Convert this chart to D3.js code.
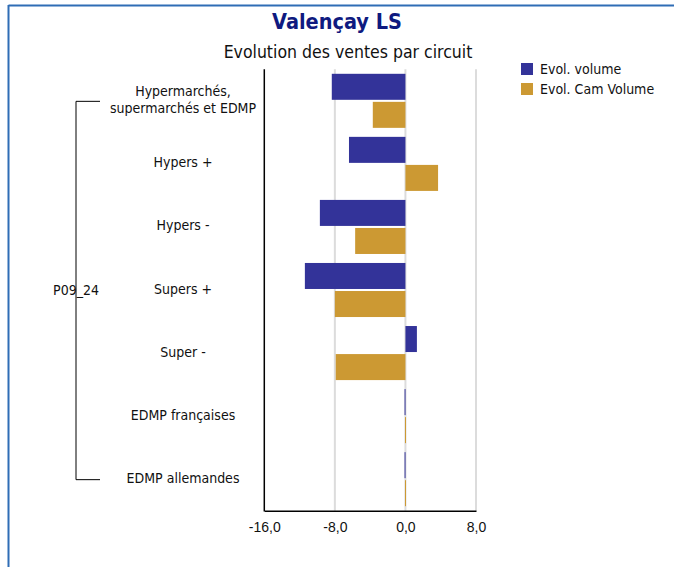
<!DOCTYPE html>
<html><head><meta charset="utf-8">
<script src="https://cdn.jsdelivr.net/npm/d3@7/dist/d3.min.js"></script>
<style>
html,body{margin:0;padding:0;background:#fff;}
svg{display:block;font-family:"DejaVu Sans Condensed","DejaVu Sans",sans-serif;}
</style></head>
<body><svg id="c" width="674" height="567"></svg>
<script>
const categories = ["Hypermarchés,|supermarchés et EDMP", "Hypers +", "Hypers -", "Supers +", "Super -", "EDMP françaises", "EDMP allemandes"];
const evolVolume = [-8.35, -6.4, -9.7, -11.4, 1.3, -0.1, -0.1];
const evolCamVolume = [-3.7, 3.7, -5.7, -8.0, -7.9, -0.05, -0.05];
const seriesNames = ["Evol. volume", "Evol. Cam Volume"];
const seriesColors = ["#333399", "#CC9933"];
const xTicks = [-16, -8, 0, 8];
const groupLabel = "P09_24";
const titleText = "Valençay LS";
const subtitleText = "Evolution des ventes par circuit";

const FS = 14;
const svg = d3.select("#c");
const L = 264.3, R = 476, T = 69.3, B = 510.7;

// border
svg.append("line").attr("x1",8.5).attr("x2",674).attr("y1",5.5).attr("y2",5.5).attr("stroke","#2f6db5").attr("stroke-width",2);
svg.append("line").attr("x1",8.5).attr("x2",8.5).attr("y1",5).attr("y2",567).attr("stroke","#2f6db5").attr("stroke-width",2);

svg.append("text").attr("x",337).attr("y",29).attr("text-anchor","middle")
  .attr("font-size",21.5).attr("font-weight","bold").attr("fill","#0f1a80").text(titleText);
svg.append("text").attr("x",348).attr("y",58).attr("text-anchor","middle")
  .attr("font-size",17.5).attr("fill","#111").text(subtitleText);

const x = d3.scaleLinear().domain([-16, 8]).range([L, R]);
const y = d3.scaleBand().domain(categories).range([T, B]);
const bw = y.bandwidth();
const sub = d3.scaleBand().domain(seriesNames).range([4.5, bw - 4.5]).paddingInner(0.0727);

// gridlines
svg.append("g").selectAll("line").data(xTicks.filter(t => t > -16)).join("line")
  .attr("x1", d => x(d)).attr("x2", d => x(d)).attr("y1", T).attr("y2", B)
  .attr("stroke", "#dcdcdc").attr("stroke-width", 2);

const data = categories.map((c, i) => ({c, vals: [evolVolume[i], evolCamVolume[i]]}));
const g = svg.append("g");
data.forEach(d => {
  d.vals.forEach((v, j) => {
    const x0 = Math.min(x(0), x(v)), w = Math.max(Math.abs(x(v) - x(0)), 1);
    g.append("rect").attr("x", x0).attr("width", w)
      .attr("y", y(d.c) + sub(seriesNames[j])).attr("height", sub.bandwidth())
      .attr("fill", seriesColors[j]);
  });
});

// axes
const xAxis = d3.axisBottom(x).tickValues(xTicks).tickSize(0).tickPadding(11)
  .tickFormat(d => d3.format(".1f")(d).replace(".", ",").replace("−", "-"));
const ax = svg.append("g").attr("transform", `translate(0,${B})`).call(xAxis);
ax.select(".domain").attr("stroke", "#000").attr("stroke-width", 1.5);
ax.selectAll("text").attr("font-size", FS).attr("fill", "#111").attr("font-family", null);

svg.append("line").attr("x1", L).attr("x2", L).attr("y1", T).attr("y2", B + 0.75).attr("stroke", "#000").attr("stroke-width", 1.5);

// category labels
const lab = svg.append("g");
categories.forEach(c => {
  const lines = c.split("|");
  const cy = y(c) + bw / 2;
  const t = lab.append("text").attr("text-anchor", "middle").attr("font-size", FS).attr("fill", "#111");
  lines.forEach((ln, k) => {
    t.append("tspan").attr("x", 183).attr("y", cy + 3.5 + (k - (lines.length - 1) / 2) * 16.5).text(ln);
  });
});

// bracket
const yTop = y(categories[0]) + bw / 2 + 0.5, yBot = y(categories[categories.length - 1]) + bw / 2 + 0.5;
svg.append("path").attr("d", `M100,${yTop}H76V${yBot}H100`).attr("fill", "none").attr("stroke", "#000").attr("stroke-width", 1);
svg.append("text").attr("x", 76).attr("y", (yTop + yBot) / 2 + 4.5).attr("text-anchor", "middle")
  .attr("font-size", FS).attr("fill", "#111").text(groupLabel);

// legend
const lg = svg.append("g");
seriesNames.forEach((s, i) => {
  lg.append("rect").attr("x", 521).attr("y", 63 + i * 20).attr("width", 12).attr("height", 12).attr("fill", seriesColors[i]);
  lg.append("text").attr("x", 540).attr("y", 74 + i * 20).attr("font-size", FS).attr("fill", "#111").text(s);
});
</script></body></html>
